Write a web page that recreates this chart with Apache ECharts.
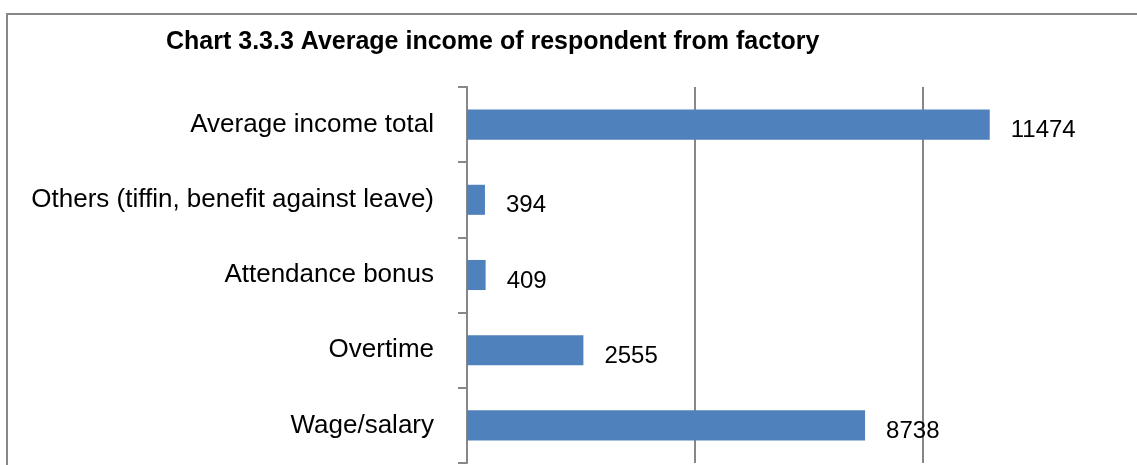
<!DOCTYPE html>
<html>
<head>
<meta charset="utf-8">
<title>Average income of respondent from factory</title>
<script src="https://cdn.jsdelivr.net/npm/echarts@6/dist/echarts.min.js"></script>
<style>
  html, body { margin: 0; padding: 0; background: #ffffff; }
  #chart { width: 1137px; height: 465px; }
</style>
</head>
<body>
<div id="chart"></div>
<script>
// Income components, listed bottom to top as they appear on the category axis
var categories = [
  'Wage/salary',
  'Overtime',
  'Attendance bonus',
  'Others (tiffin, benefit against leave)',
  'Average income total'
];
var incomeValues = [8738, 2555, 409, 394, 11474];
var titleText = 'Chart 3.3.3 Average income of respondent from factory';

var FONT = '"Liberation Sans", Arial, sans-serif';
var GREY = '#878787';

var chart = echarts.init(document.getElementById('chart'), null, { renderer: 'canvas' });

chart.setOption({
  backgroundColor: '#ffffff',
  animation: false,
  title: {
    text: titleText,
    left: 166,
    top: 30,
    padding: 0,
    textStyle: {
      fontFamily: FONT,
      fontSize: 25,
      fontWeight: 'bold',
      color: '#000000'
    }
  },
  graphic: [{
    type: 'rect',
    silent: true,
    shape: { x: 7, y: 14, width: 1160, height: 480 },
    style: { fill: 'none', stroke: GREY, lineWidth: 2 }
  }],
  // the visible part of the value axis stops at the page's right edge (14700)
  grid: {
    left: 467,
    top: 87,
    width: 669.7,
    height: 376
  },
  xAxis: {
    type: 'value',
    min: 0,
    max: 14700,
    interval: 5000,
    axisLine: { show: false },
    axisTick: { show: false },
    axisLabel: { show: false },
    splitLine: {
      show: true,
      showMinLine: false,
      showMaxLine: false,
      lineStyle: { color: GREY, width: 2 }
    }
  },
  yAxis: {
    type: 'category',
    data: categories,
    axisLine: { show: true, lineStyle: { color: GREY, width: 2 } },
    axisTick: { show: true, length: 9, lineStyle: { color: GREY, width: 2 } },
    axisLabel: {
      margin: 33,
      fontFamily: FONT,
      fontSize: 26,
      color: '#000000'
    },
    splitLine: { show: false }
  },
  series: [{
    type: 'bar',
    data: incomeValues,
    barCategoryGap: '60%',
    itemStyle: { color: '#4f81bd' },
    label: {
      show: true,
      position: 'right',
      distance: 21,
      offset: [0, 6],
      fontFamily: FONT,
      fontSize: 24,
      color: '#000000'
    }
  }]
});
</script>
</body>
</html>
